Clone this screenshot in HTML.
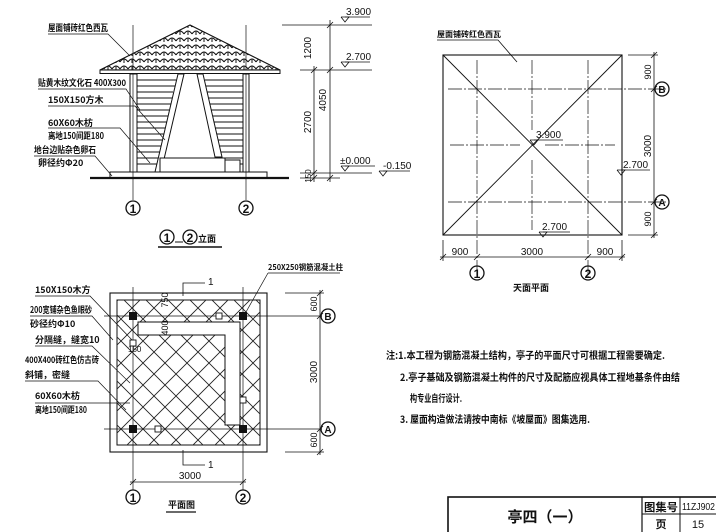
<!DOCTYPE html>
<html><head><meta charset="utf-8"><style>
html,body{margin:0;padding:0;background:#fff;}
svg{display:block;}
text{font-family:"Liberation Sans","Noto Sans CJK SC",sans-serif;fill:#111;}
.c{font-family:"Noto Sans CJK SC","WenQuanYi Zen Hei",sans-serif;font-weight:bold;}
</style></head><body>
<svg width="716" height="532" viewBox="0 0 716 532" xmlns="http://www.w3.org/2000/svg" stroke="#111" fill="none" stroke-width="1">
<defs>
<pattern id="tile" width="8" height="7" patternUnits="userSpaceOnUse">
<path d="M0 6 Q4 0 8 6" stroke="#111" stroke-width="1.1"/>
<line x1="4" y1="3" x2="4" y2="7" stroke="#111" stroke-width="1"/>
</pattern>
<pattern id="diam" width="22" height="22" patternUnits="userSpaceOnUse">
<path d="M0 0 L22 22 M22 0 L0 22" stroke="#222" stroke-width="0.9"/>
</pattern>
<clipPath id="pc"><rect x="117" y="300" width="143" height="145"/></clipPath>
</defs>

<!-- ELEVATION -->
<line x1="133" y1="25" x2="133" y2="200" stroke-width="0.7"/>
<line x1="246" y1="25" x2="246" y2="200" stroke-width="0.7"/>
<polygon points="190,25 100,70 280,70" fill="url(#tile)" stroke-width="1.2"/>
<rect x="100" y="70" width="180" height="3.5" fill="#fff" stroke-width="1"/>
<rect x="130" y="74" width="7" height="98"/>
<rect x="243" y="74" width="6" height="98"/>
<g stroke-width="0.9">
<line x1="137" y1="80" x2="176" y2="80"/><line x1="137" y1="86" x2="175" y2="86"/><line x1="137" y1="92" x2="173" y2="92"/><line x1="137" y1="98" x2="172" y2="98"/><line x1="137" y1="104" x2="171" y2="104"/><line x1="137" y1="110" x2="169" y2="110"/><line x1="137" y1="116" x2="168" y2="116"/><line x1="137" y1="122" x2="167" y2="122"/><line x1="137" y1="128" x2="165" y2="128"/><line x1="137" y1="134" x2="164" y2="134"/><line x1="137" y1="140" x2="162" y2="140"/><line x1="137" y1="146" x2="161" y2="146"/><line x1="137" y1="152" x2="160" y2="152"/><line x1="137" y1="158" x2="158" y2="158"/><line x1="137" y1="164" x2="157" y2="164"/>
<line x1="205" y1="80" x2="243" y2="80"/><line x1="206" y1="86" x2="243" y2="86"/><line x1="207" y1="92" x2="243" y2="92"/><line x1="209" y1="98" x2="243" y2="98"/><line x1="210" y1="104" x2="243" y2="104"/><line x1="211" y1="110" x2="243" y2="110"/><line x1="213" y1="116" x2="243" y2="116"/><line x1="214" y1="122" x2="243" y2="122"/><line x1="215" y1="128" x2="243" y2="128"/><line x1="217" y1="134" x2="243" y2="134"/><line x1="218" y1="140" x2="243" y2="140"/><line x1="219" y1="146" x2="243" y2="146"/><line x1="221" y1="152" x2="243" y2="152"/><line x1="225" y1="158" x2="243" y2="158"/><line x1="225" y1="164" x2="243" y2="164"/>
</g>
<polygon points="178,74 184,74 161,172 155,172" fill="#fff"/>
<polygon points="197,74 203,74 222,157 215,157" fill="#fff"/>
<rect x="160" y="158" width="65" height="14" fill="#fff"/>
<rect x="225" y="160" width="15" height="12" fill="#fff"/>
<rect x="110" y="172" width="157" height="6"/>
<line x1="90" y1="178" x2="289" y2="178" stroke-width="2.2"/>
<circle cx="133" cy="208" r="7" stroke-width="1.3"/><text x="133" y="213" font-size="12" text-anchor="middle" font-weight="bold" stroke="none">1</text>
<circle cx="246" cy="208" r="7" stroke-width="1.3"/><text x="246" y="213" font-size="12" text-anchor="middle" font-weight="bold" stroke="none">2</text>
<circle cx="167" cy="237" r="7" stroke-width="1.3"/><text x="167" y="242" font-size="12" text-anchor="middle" font-weight="bold" stroke="none">1</text>
<line x1="175" y1="242" x2="183" y2="242"/>
<circle cx="190" cy="237" r="7" stroke-width="1.3"/><text x="190" y="242" font-size="12" text-anchor="middle" font-weight="bold" stroke="none">2</text>
<text x="198" y="242" font-size="9" class="c" stroke="none">立面</text>
<line x1="158" y1="247" x2="222" y2="247" stroke-width="1.5"/>
<g stroke="none" font-size="9">
<text x="48" y="31" class="c" textLength="60" lengthAdjust="spacingAndGlyphs">屋面铺砖红色西瓦</text>
<text x="38" y="86" class="c" textLength="88" lengthAdjust="spacingAndGlyphs">贴黄木纹文化石 400X300</text>
<text x="48" y="103" class="c">150X150方木</text>
<text x="48" y="126" class="c">60X60木枋</text>
<text x="48" y="139" class="c" textLength="56" lengthAdjust="spacingAndGlyphs">离地150间距180</text>
<text x="34" y="153" class="c" textLength="62" lengthAdjust="spacingAndGlyphs">地台边贴杂色卵石</text>
<text x="38" y="166" class="c">卵径约Φ20</text>
</g>
<g stroke-width="0.7">
<polyline points="48,34 108,34 130,56"/>
<polyline points="38,89 126,89 140,110"/>
<polyline points="48,106 135,106 165,140"/>
<polyline points="48,128 120,128 150,163"/>
<polyline points="34,156 95,156 112,176"/>
</g>
<g stroke-width="0.8">
<line x1="282" y1="25" x2="372" y2="25"/>
<line x1="300" y1="70" x2="372" y2="70"/>
<line x1="300" y1="173" x2="372" y2="173"/>
<line x1="300" y1="178" x2="340" y2="178"/>
<line x1="330" y1="20" x2="330" y2="182"/>
<line x1="314" y1="66" x2="314" y2="182"/>
<line x1="327" y1="28" x2="333" y2="22"/><line x1="327" y1="73" x2="333" y2="67"/><line x1="311" y1="73" x2="317" y2="67"/><line x1="311" y1="176" x2="317" y2="170"/><line x1="311" y1="181" x2="317" y2="175"/><line x1="327" y1="181" x2="333" y2="175"/>
<polyline points="341,17 345,22 349,17 341,17"/><line x1="345" y1="17" x2="370" y2="17"/>
<polyline points="341,62 345,67 349,62 341,62"/><line x1="345" y1="62" x2="370" y2="62"/>
<polyline points="341,166 345,171 349,166 341,166"/><line x1="345" y1="166" x2="375" y2="166"/>
<polyline points="379,171 383,176 387,171 379,171"/><line x1="383" y1="171" x2="410" y2="171"/>
</g>
<g stroke="none" font-size="10">
<text x="346" y="15">3.900</text><text x="346" y="60">2.700</text><text x="340" y="164">±0.000</text><text x="383" y="169">-0.150</text>
<text transform="translate(311,48) rotate(-90)" text-anchor="middle">1200</text>
<text transform="translate(311,122) rotate(-90)" text-anchor="middle">2700</text>
<text transform="translate(326,100) rotate(-90)" text-anchor="middle">4050</text>
<text transform="translate(311,176) rotate(-90)" text-anchor="middle" font-size="8">150</text>
</g>

<!-- PLAN -->
<rect x="110" y="293" width="157" height="159" stroke-width="1.1"/>
<rect x="117" y="300" width="143" height="145"/>
<rect x="117" y="300" width="143" height="145" fill="url(#diam)" clip-path="url(#pc)" stroke="none"/>
<polygon points="138,322 240,322 240,425 225,425 225,335 138,335" fill="#fff" stroke-width="1"/>
<g stroke-width="0.7">
<line x1="133" y1="287" x2="133" y2="490"/><line x1="243" y1="287" x2="243" y2="490"/>
<line x1="104" y1="316" x2="322" y2="316"/><line x1="104" y1="429" x2="322" y2="429"/>
</g>
<g fill="#111" stroke="none">
<rect x="129" y="312" width="8" height="8"/><rect x="239" y="312" width="8" height="8"/><rect x="129" y="425" width="8" height="8"/><rect x="239" y="425" width="8" height="8"/>
</g>
<g fill="#fff" stroke-width="0.9">
<rect x="216" y="313" width="6" height="6"/><rect x="130" y="340" width="6" height="6"/><rect x="155" y="426" width="6" height="6"/><rect x="240" y="397" width="6" height="6"/>
</g>
<g stroke-width="0.8">
<line x1="320" y1="290" x2="320" y2="455"/>
<line x1="285" y1="293" x2="324" y2="293"/><line x1="285" y1="452" x2="324" y2="452"/>
<line x1="317" y1="296" x2="323" y2="290"/><line x1="317" y1="319" x2="323" y2="313"/><line x1="317" y1="432" x2="323" y2="426"/><line x1="317" y1="455" x2="323" y2="449"/>
<line x1="130" y1="482" x2="246" y2="482"/>
<line x1="130" y1="485" x2="136" y2="479"/><line x1="240" y1="485" x2="246" y2="479"/>
<polyline points="183,296 183,283 205,283"/>
<polyline points="183,450 183,465 205,465"/>
</g>
<circle cx="328" cy="316" r="7" stroke-width="1.3"/><text x="328" y="320" font-size="10" text-anchor="middle" font-weight="bold" stroke="none">B</text>
<circle cx="328" cy="429" r="7" stroke-width="1.3"/><text x="328" y="433" font-size="10" text-anchor="middle" font-weight="bold" stroke="none">A</text>
<circle cx="133" cy="497" r="7" stroke-width="1.3"/><text x="133" y="502" font-size="12" text-anchor="middle" font-weight="bold" stroke="none">1</text>
<circle cx="243" cy="497" r="7" stroke-width="1.3"/><text x="243" y="502" font-size="12" text-anchor="middle" font-weight="bold" stroke="none">2</text>
<g stroke="none" font-size="10">
<text x="208" y="285">1</text><text x="208" y="468">1</text>
<text x="190" y="479" text-anchor="middle">3000</text>
<text transform="translate(317,304) rotate(-90)" text-anchor="middle" font-size="9">600</text>
<text transform="translate(317,372) rotate(-90)" text-anchor="middle">3000</text>
<text transform="translate(317,440) rotate(-90)" text-anchor="middle" font-size="9">600</text>
<text transform="translate(168,300) rotate(-90)" text-anchor="middle" font-size="9">750</text>
<text transform="translate(168,328) rotate(-90)" text-anchor="middle" font-size="9">400</text>
<text x="128" y="352" font-size="8">150</text>
</g>
<g stroke="none" font-size="9">
<text x="168" y="508" class="c">平面图</text>
<text x="268" y="270" class="c" font-size="8" textLength="75" lengthAdjust="spacingAndGlyphs">250X250钢筋混凝土柱</text>
<text x="35" y="293" class="c">150X150木方</text>
<text x="30" y="313" class="c" textLength="62" lengthAdjust="spacingAndGlyphs">200宽铺杂色鱼眼砂</text>
<text x="30" y="327" class="c">砂径约Φ10</text>
<text x="35" y="343" class="c">分隔缝，缝宽10</text>
<text x="25" y="363" class="c" textLength="74" lengthAdjust="spacingAndGlyphs">400X400砖红色仿古砖</text>
<text x="25" y="378" class="c">斜铺，密缝</text>
<text x="35" y="399" class="c">60X60木枋</text>
<text x="35" y="413" class="c" textLength="52" lengthAdjust="spacingAndGlyphs">离地150间距180</text>
</g>
<line x1="166" y1="512" x2="196" y2="512" stroke-width="1.3"/>
<g stroke-width="0.7">
<polyline points="35,296 90,296 132,340"/>
<polyline points="30,316 92,316 113,340"/>
<polyline points="35,346 92,346 130,383"/>
<polyline points="25,381 98,381 126,410"/>
<polyline points="35,403 130,403"/>
<polyline points="268,273 340,273"/><line x1="268" y1="273" x2="246" y2="312"/>
</g>

<!-- ROOF PLAN -->
<rect x="443" y="55" width="179" height="180" stroke-width="1.1"/>
<line x1="443" y1="55" x2="622" y2="235" stroke-width="0.9"/>
<line x1="622" y1="55" x2="443" y2="235" stroke-width="0.9"/>
<g stroke-width="0.7" stroke-dasharray="14,2,2,2">
<line x1="477" y1="60" x2="477" y2="280"/><line x1="588" y1="60" x2="588" y2="280"/>
<line x1="448" y1="89" x2="668" y2="89"/><line x1="448" y1="202" x2="668" y2="202"/>
<line x1="532" y1="60" x2="532" y2="130"/><line x1="532" y1="160" x2="532" y2="230"/>
<line x1="450" y1="145" x2="520" y2="145"/><line x1="545" y1="145" x2="615" y2="145"/>
</g>
<g stroke-width="0.8">
<line x1="654" y1="52" x2="654" y2="238"/>
<line x1="628" y1="55" x2="658" y2="55"/><line x1="628" y1="235" x2="658" y2="235"/>
<line x1="651" y1="58" x2="657" y2="52"/><line x1="651" y1="92" x2="657" y2="86"/><line x1="651" y1="205" x2="657" y2="199"/><line x1="651" y1="238" x2="657" y2="232"/>
<line x1="440" y1="257" x2="625" y2="257"/>
<line x1="443" y1="240" x2="443" y2="261"/><line x1="622" y1="240" x2="622" y2="261"/>
<line x1="440" y1="260" x2="446" y2="254"/><line x1="474" y1="260" x2="480" y2="254"/><line x1="585" y1="260" x2="591" y2="254"/><line x1="619" y1="260" x2="625" y2="254"/>
<polyline points="530,140 534,145 538,140 530,140"/><line x1="534" y1="140" x2="563" y2="140"/>
<polyline points="617,170 621,175 625,170 617,170"/><line x1="621" y1="170" x2="650" y2="170"/>
<polyline points="539,232 543,237 547,232 539,232"/><line x1="543" y1="232" x2="570" y2="232"/>
<polyline points="437,40 498,40 517,62"/>
</g>
<circle cx="662" cy="89" r="7" stroke-width="1.3"/><text x="662" y="93" font-size="10" text-anchor="middle" font-weight="bold" stroke="none">B</text>
<circle cx="662" cy="202" r="7" stroke-width="1.3"/><text x="662" y="206" font-size="10" text-anchor="middle" font-weight="bold" stroke="none">A</text>
<circle cx="477" cy="273" r="7" stroke-width="1.3"/><text x="477" y="278" font-size="12" text-anchor="middle" font-weight="bold" stroke="none">1</text>
<circle cx="588" cy="273" r="7" stroke-width="1.3"/><text x="588" y="278" font-size="12" text-anchor="middle" font-weight="bold" stroke="none">2</text>
<g stroke="none" font-size="10">
<text x="536" y="138">3.900</text><text x="623" y="168">2.700</text><text x="542" y="230">2.700</text>
<text x="460" y="255" text-anchor="middle">900</text><text x="532" y="255" text-anchor="middle">3000</text><text x="605" y="255" text-anchor="middle">900</text>
<text transform="translate(651,72) rotate(-90)" text-anchor="middle" font-size="9">900</text>
<text transform="translate(651,146) rotate(-90)" text-anchor="middle">3000</text>
<text transform="translate(651,219) rotate(-90)" text-anchor="middle" font-size="9">900</text>
<text x="437" y="37" font-size="8" class="c">屋面铺砖红色西瓦</text>
<text x="513" y="291" font-size="9" class="c">天面平面</text>
</g>

<!-- NOTES -->
<g stroke="none" font-size="10">
<text x="386" y="359" class="c" textLength="279" lengthAdjust="spacingAndGlyphs">注:1.本工程为钢筋混凝土结构，亭子的平面尺寸可根据工程需要确定.</text>
<text x="400" y="381" class="c" textLength="280" lengthAdjust="spacingAndGlyphs">2.亭子基础及钢筋混凝土构件的尺寸及配筋应视具体工程地基条件由结</text>
<text x="410" y="402" class="c" textLength="52" lengthAdjust="spacingAndGlyphs">构专业自行设计.</text>
<text x="400" y="423" class="c" textLength="190" lengthAdjust="spacingAndGlyphs">3. 屋面构造做法请按中南标《坡屋面》图集选用.</text>
</g>

<!-- TITLE BLOCK -->
<rect x="448" y="497" width="280" height="40" stroke-width="1.6"/>
<line x1="642" y1="497" x2="642" y2="532" stroke-width="1.2"/>
<line x1="680" y1="497" x2="680" y2="532" stroke-width="1"/>
<line x1="642" y1="514" x2="716" y2="514" stroke-width="1"/>
<g stroke="none">
<text x="545" y="522" font-size="15" text-anchor="middle" class="c">亭四（一）</text>
<text x="644" y="511" font-size="11" class="c" textLength="34" lengthAdjust="spacingAndGlyphs">图集号</text>
<text x="682" y="510" font-size="10" textLength="33" lengthAdjust="spacingAndGlyphs">11ZJ902</text>
<text x="661" y="528" font-size="11" text-anchor="middle" class="c">页</text>
<text x="698" y="528" font-size="11" text-anchor="middle">15</text>
</g>
</svg>
</body></html>
